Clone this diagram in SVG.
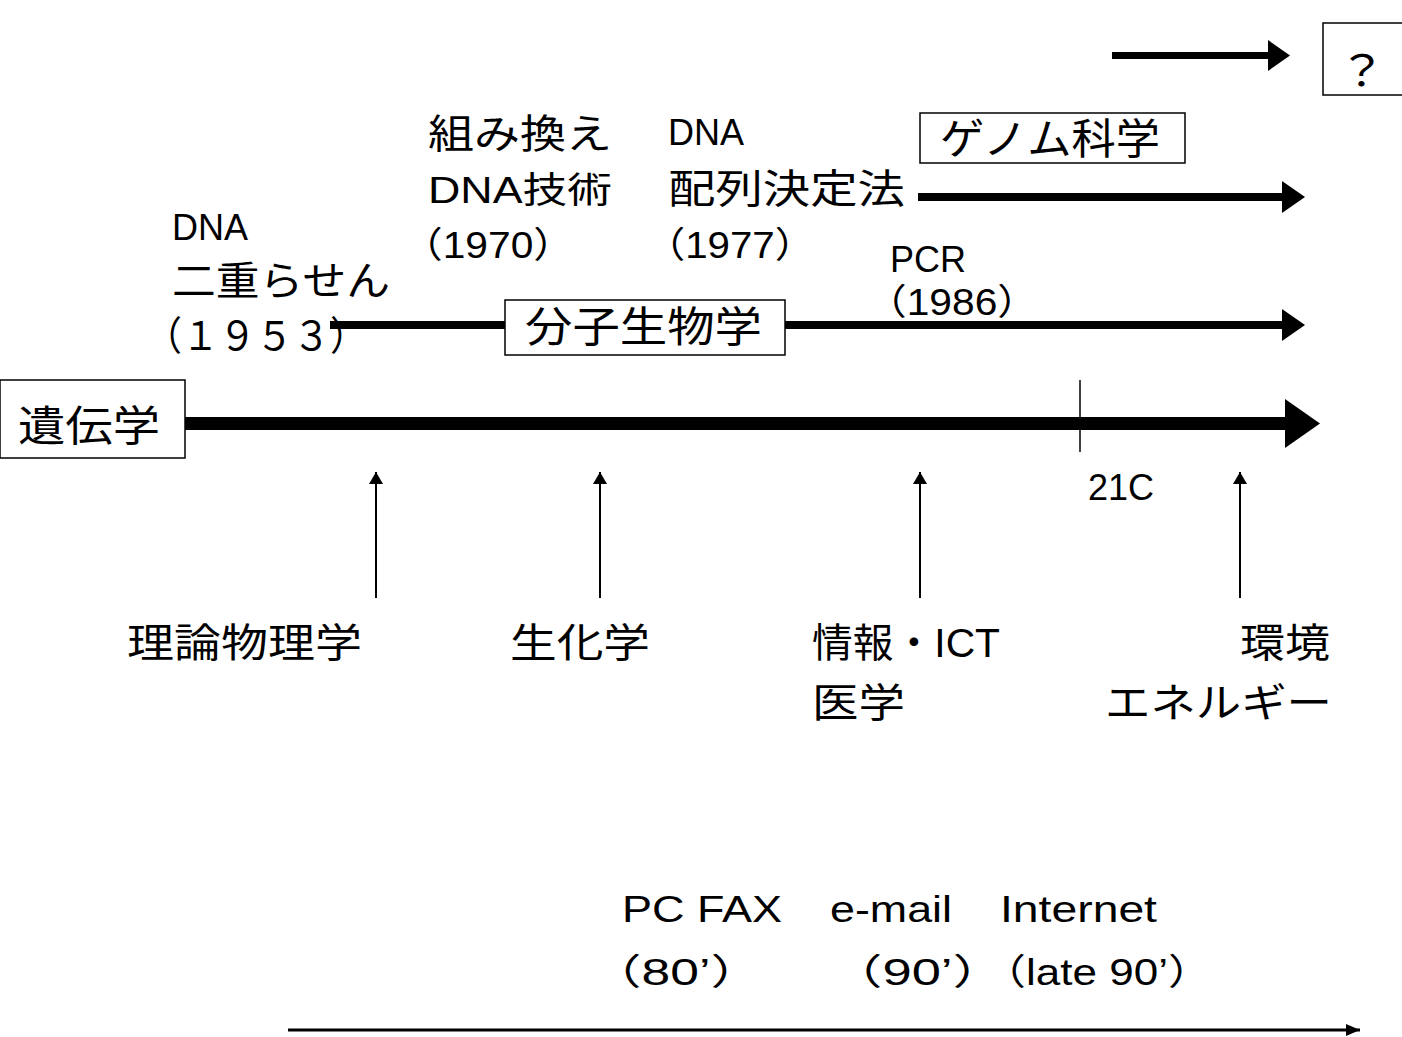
<svg xmlns="http://www.w3.org/2000/svg" width="1402" height="1037" viewBox="0 0 1402 1037">
<style>
text{font-family:"Liberation Sans","Noto Sans CJK JP",sans-serif;fill:#000}
.big{font-size:42px}
.mid{font-size:40px}
.sm{font-size:36px}
.box{fill:#fff;stroke:#000;stroke-width:1.5}
.thin{stroke:#000;stroke-width:2;fill:none}
</style>
<defs>
<marker id="ah" markerWidth="12" markerHeight="14" refX="12" refY="7" orient="auto" markerUnits="userSpaceOnUse">
<path d="M0,0 L12,7 L0,14 Z" fill="#000"/>
</marker>
<marker id="ah2" markerWidth="14" markerHeight="12" refX="14" refY="6" orient="auto" markerUnits="userSpaceOnUse">
<path d="M0,0 L14,6 L0,12 Z" fill="#000"/>
</marker>
</defs>
<g id="connectors">
<rect x="1112" y="52" width="160" height="7"/>
<polygon points="1268,40 1290,55.5 1268,71"/>
<rect x="918" y="193" width="367" height="8"/>
<polygon points="1282,181 1305,197 1282,213"/>
<rect x="330" y="321" width="175" height="8"/>
<rect x="785" y="321" width="500" height="8"/>
<polygon points="1282,309 1305,325 1282,341"/>
<rect x="185" y="417" width="1105" height="13"/>
<polygon points="1285,399 1320,423.5 1285,448"/>
<line x1="1080" y1="380" x2="1080" y2="452" stroke="#000" stroke-width="1.5"/>
<line class="thin" x1="376" y1="598" x2="376" y2="472" marker-end="url(#ah)"/>
<line class="thin" x1="600" y1="598" x2="600" y2="472" marker-end="url(#ah)"/>
<line class="thin" x1="920" y1="598" x2="920" y2="472" marker-end="url(#ah)"/>
<line class="thin" x1="1240" y1="598" x2="1240" y2="472" marker-end="url(#ah)"/>
<line x1="288" y1="1030" x2="1360" y2="1030" stroke="#000" stroke-width="3" marker-end="url(#ah2)"/>
</g>
<g id="node-unknown">
<rect class="box" x="1323" y="23" width="82" height="72"/>
<text class="big" x="1338" y="86" textLength="48" lengthAdjust="spacingAndGlyphs">？</text>
</g>
<g id="node-genome">
<rect class="box" x="920" y="113" width="265" height="50"/>
<text class="big" x="940" y="154" textLength="220" lengthAdjust="spacingAndGlyphs">ゲノム科学</text>
</g>
<g id="node-molbio">
<rect class="box" x="505" y="300" width="280" height="55"/>
<text class="big" x="525" y="342" textLength="237" lengthAdjust="spacingAndGlyphs">分子生物学</text>
</g>
<g id="node-genetics">
<rect class="box" x="0" y="380" width="185" height="78"/>
<text class="big" x="18" y="441" textLength="142" lengthAdjust="spacingAndGlyphs">遺伝学</text>
</g>
<g id="label-dna-helix">
<text class="sm" x="172" y="240">DNA</text>
<text class="mid" x="172" y="295" textLength="218" lengthAdjust="spacingAndGlyphs">二重らせん</text>
<text class="mid" x="145" y="350" textLength="222" lengthAdjust="spacingAndGlyphs">（１９５３）</text>
</g>
<g id="label-recomb">
<text class="mid" x="428" y="148" textLength="184" lengthAdjust="spacingAndGlyphs">組み換え</text>
<text class="sm" x="428" y="203" textLength="184" lengthAdjust="spacingAndGlyphs">DNA技術</text>
<text class="sm" x="402" y="258" textLength="172" lengthAdjust="spacingAndGlyphs">（1970）</text>
</g>
<g id="label-seq">
<text class="sm" x="668" y="145">DNA</text>
<text class="mid" x="668" y="203" textLength="237" lengthAdjust="spacingAndGlyphs">配列決定法</text>
<text class="sm" x="645" y="258" textLength="170" lengthAdjust="spacingAndGlyphs">（1977）</text>
</g>
<g id="label-pcr">
<text class="sm" x="890" y="272">PCR</text>
<text class="sm" x="866" y="315" textLength="172" lengthAdjust="spacingAndGlyphs">（1986）</text>
</g>
<text class="sm" x="1088" y="500">21C</text>
<g id="node-physics"><text class="mid" x="127" y="657" textLength="235" lengthAdjust="spacingAndGlyphs">理論物理学</text></g>
<g id="node-biochem"><text class="mid" x="510" y="657" textLength="140" lengthAdjust="spacingAndGlyphs">生化学</text></g>
<g id="node-ict">
<text class="mid" x="812" y="657" textLength="188" lengthAdjust="spacingAndGlyphs">情報・ICT</text>
<text class="mid" x="812" y="717" textLength="93" lengthAdjust="spacingAndGlyphs">医学</text>
</g>
<g id="node-env">
<text class="mid" x="1240" y="657" textLength="90" lengthAdjust="spacingAndGlyphs">環境</text>
<text class="mid" x="1105" y="717" textLength="227" lengthAdjust="spacingAndGlyphs">エネルギー</text>
</g>
<g id="label-ict-timeline">
<text class="sm" x="622" y="922" textLength="160" lengthAdjust="spacingAndGlyphs">PC FAX</text>
<text class="sm" x="830" y="922" textLength="122" lengthAdjust="spacingAndGlyphs">e-mail</text>
<text class="sm" x="1000" y="922" textLength="157" lengthAdjust="spacingAndGlyphs">Internet</text>
<text class="sm" x="590" y="985" textLength="172" lengthAdjust="spacingAndGlyphs">（80’）</text>
<text class="sm" x="830" y="985" textLength="175" lengthAdjust="spacingAndGlyphs">（90’）</text>
<text class="sm" x="982" y="985" textLength="230" lengthAdjust="spacingAndGlyphs">（late 90’）</text>
</g>
</svg>
